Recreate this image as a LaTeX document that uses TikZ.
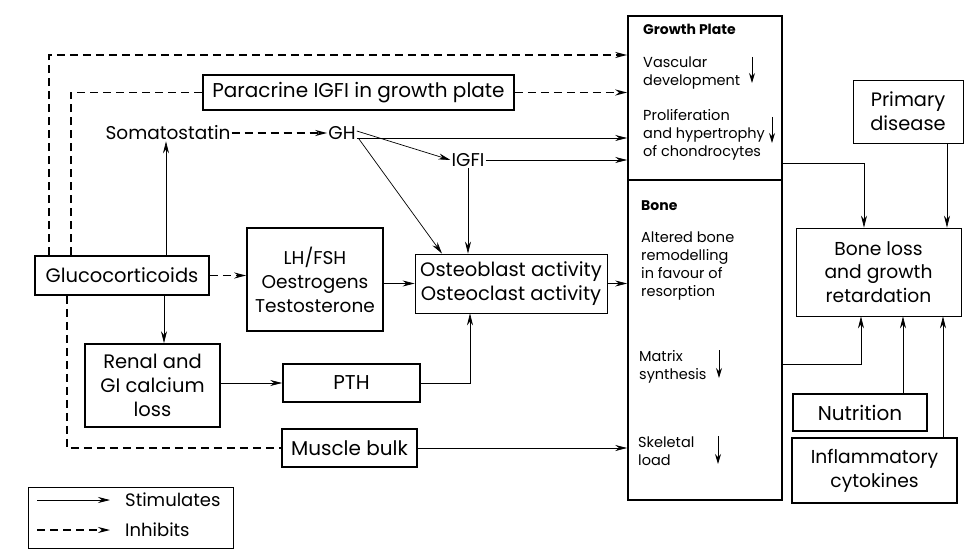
\documentclass[tikz,border=0pt]{standalone}
\usepackage{fontspec}
\setmainfont{Poppins}
\usetikzlibrary{arrows.meta,calc}
\begin{document}
\begin{tikzpicture}[x=1pt,y=-1pt,
  thickbox/.style={draw,line width=1.6pt,inner sep=0pt,align=center,font=\fontsize{19.5}{24}\selectfont},
  thinbox/.style={draw,line width=0.8pt,inner sep=0pt,align=center,font=\fontsize{19.5}{24}\selectfont},
  lbl/.style={inner sep=1pt,font=\fontsize{18.5}{22}\selectfont},
  small/.style={inner sep=0pt,align=left,anchor=north west,font=\fontsize{14.5}{18}\selectfont},
  stim/.style={line width=0.7pt,-{Stealth[length=12pt,width=6pt]}},
  inh/.style={line width=1.6pt,dash pattern=on 8pt off 5pt,-{Stealth[length=12pt,width=6pt]}},
  inhline/.style={line width=1.6pt,dash pattern=on 8pt off 5pt},
  darr/.style={line width=0.9pt,-{Stealth[length=10pt,width=6pt]}}]
\useasboundingbox (0,0) rectangle (965,553);
\fill[white] (0,0) rectangle (965,553);
% big box
\node[draw,line width=1.6pt,minimum width=154pt,minimum height=164pt,inner sep=0pt] (gp) at (705,98) {};
\node[draw,line width=1.6pt,minimum width=154pt,minimum height=320pt,inner sep=0pt] (bone) at (705,340) {};
% boxes
\node[thickbox,minimum width=311pt,minimum height=35pt,font=\fontsize{20}{24}\selectfont] (para) at (358.5,92.5) {Paracrine IGFI in growth plate};
\node[thickbox,minimum width=174pt,minimum height=39pt] (gluco) at (122,275.5) {Glucocorticoids};
\node[thickbox,minimum width=136pt,minimum height=103pt,font=\fontsize{18.5}{24}\selectfont] (lh) at (315,279.5) {LH/FSH\\Oestrogens\\Testosterone};
\node[thinbox,minimum width=192pt,minimum height=59pt] (osteo) at (511,283.5) {Osteoblast activity\\Osteoclast activity};
\node[thickbox,minimum width=135pt,minimum height=83pt] (renal) at (152.5,385.5) {Renal and\\GI calcium\\loss};
\node[thickbox,minimum width=137pt,minimum height=38pt,font=\fontsize{20}{24}\selectfont] (pth) at (351.5,383) {PTH};
\node[thickbox,minimum width=135pt,minimum height=38pt,font=\fontsize{20}{24}\selectfont] (muscle) at (349.5,448) {Muscle bulk};
\node[thinbox,minimum width=110pt,minimum height=63pt,font=\fontsize{19.4}{24}\selectfont] (primary) at (908,111.5) {Primary\\disease};
\node[thinbox,minimum width=165pt,minimum height=88pt,font=\fontsize{18.7}{23.5}\selectfont] (boneloss) at (878.5,272) {Bone loss\\and growth\\retardation};
\node[thickbox,minimum width=134pt,minimum height=37pt,font=\fontsize{20}{24}\selectfont] (nutri) at (860,412.5) {Nutrition};
\node[thickbox,minimum width=165pt,minimum height=65pt,font=\fontsize{18.7}{24}\selectfont] (inflam) at (874.5,470.5) {Inflammatory\\cytokines};
\node[lbl] (somato) at (168,133) {Somatostatin};
\node[lbl] (gh) at (342,133) {GH};
\node[lbl] (igf) at (468,160) {IGFI};
% legend
\node[draw,line width=0.8pt,minimum width=205pt,minimum height=61pt,inner sep=0pt] (legend) at (130.5,517.5) {};
\coordinate (ls1) at (37,500);
\coordinate (ls2) at (110,500);
\coordinate (li1) at (37,530);
\coordinate (li2) at (110,530);
\draw[stim] (ls1) -- (ls2);
\draw[inh,line width=1.1pt] (li1) -- (li2);
\node[lbl,anchor=west,font=\fontsize{18}{22}\selectfont] (tstim) at (124,500) {Stimulates};
\node[lbl,anchor=west,font=\fontsize{18}{22}\selectfont] (tinh) at (124,530) {Inhibits};
% text in big box
\node[small,font=\bfseries\fontsize{14}{17}\selectfont] (tgp) at (643,24) {Growth Plate};
\node[small] (tvasc) at (643,57) {Vascular\\development};
\node[small] (tprol) at (643,109) {Proliferation\\and hypertrophy\\of chondrocytes};
\node[small,font=\bfseries\fontsize{14}{17}\selectfont] (tbone) at (641,200) {Bone};
\node[small] (talt) at (641,232) {Altered bone\\remodelling\\in favour of\\resorption};
\node[small] (tmat) at (639,350) {Matrix\\synthesis};
\node[small] (tske) at (638,437) {Skeletal\\load};
\coordinate (a1s) at (752,57); \coordinate (a1e) at (752,83);
\coordinate (a2s) at (772,117); \coordinate (a2e) at (772,143);
\coordinate (a3s) at (719,350); \coordinate (a3e) at (719,378);
\coordinate (a4s) at (718,436); \coordinate (a4e) at (718,464);
\draw[darr] (a1s) -- (a1e);
\draw[darr] (a2s) -- (a2e);
\draw[darr] (a3s) -- (a3e);
\draw[darr] (a4s) -- (a4e);
% dashed connectors
\coordinate (d1) at (49,55);
\draw[inh] (gluco.north -| d1) -- (d1) -- (d1 -| gp.west);
\coordinate (d2) at (71,92.5);
\draw[inhline] (gluco.north -| d2) |- (para.west);
\draw[inh] (para.east) -- (para.east -| gp.west);
\draw[inh,line width=1.2pt] (somato.east) -- (gh.west);
\coordinate (d3) at (67,448);
\draw[inhline] (gluco.south -| d3) |- (muscle.west);
\draw[inh,line width=1.3pt] (gluco.east) -- (gluco.east -| lh.west);
% solid connectors
\draw[stim] ([yshift=-5]gh.east) -- ([yshift=-5]gh.east -| gp.west);
\draw[stim] ([yshift=2]gh.east) -- (igf.west);
\draw[stim] ([xshift=2,yshift=2]gh.south east) -- ([xshift=-69]osteo.north);
\draw[stim] (igf.south) -- (igf.south |- osteo.north);
\draw[stim] (igf.east) -- (igf.east -| gp.west);
\coordinate (g1) at (166,0);
\draw[stim] (gluco.north -| g1) -- (somato.south -| g1);
\draw[stim] (lh.east |- osteo.west) -- (osteo.west);
\draw[stim] (osteo.east) -- (osteo.east -| bone.west);
\coordinate (g2) at (164,0);
\draw[stim] (gluco.south -| g2) -- (renal.north -| g2);
\draw[stim] (pth.west -| renal.east) -- (pth.west);
\draw[stim] (pth.east) -| ([xshift=-41]osteo.south);
\draw[stim] (muscle.east) -- (muscle.east -| bone.west);
\coordinate (r1) at (864,163);
\draw[stim] (gp.east |- r1) -| (boneloss.north -| r1);
\coordinate (r2) at (947,0);
\draw[stim] (primary.south -| r2) -- (boneloss.north -| r2);
\coordinate (r3) at (861,364);
\draw[stim] (bone.east |- r3) -| (boneloss.south -| r3);
\coordinate (r4) at (903,0);
\draw[stim] (nutri.north -| r4) -- (boneloss.south -| r4);
\coordinate (r5) at (943,0);
\draw[stim] (inflam.north -| r5) -- (boneloss.south -| r5);
\end{tikzpicture}
\end{document}
